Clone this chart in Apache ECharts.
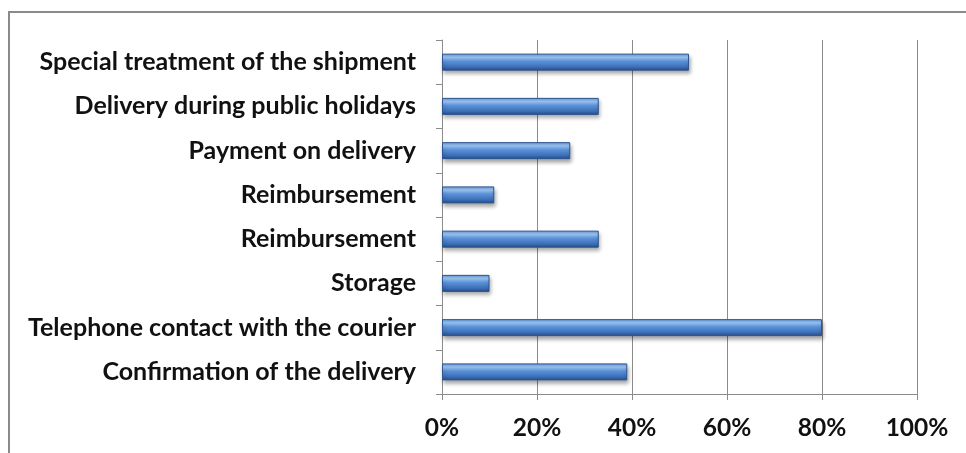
<!DOCTYPE html>
<html>
<head>
<meta charset="utf-8">
<script src="https://cdn.jsdelivr.net/npm/echarts@6/dist/echarts.min.js"></script>
<style>
html, body { margin: 0; padding: 0; background: #fff; }
#chart { width: 966px; height: 453px; }
</style>
</head>
<body>
<div id="chart"></div>
<script>
// Services, listed top to bottom
const categories = [
  'Special treatment of the shipment',
  'Delivery during public holidays',
  'Payment on delivery',
  'Reimbursement',
  'Reimbursement',
  'Storage',
  'Telephone contact with the courier',
  'Confirmation of the delivery'
];
const shares = [52, 33, 27, 11, 33, 10, 80, 39];
const tickValues = [0, 20, 40, 60, 80, 100];

const chart = echarts.init(document.getElementById('chart'));
const font = 'Lato, "Open Sans", sans-serif';

chart.setOption({
  animation: false,
  graphic: [{
    type: 'rect',
    shape: { x: 9, y: 12, width: 1000, height: 500 },
    style: { fill: 'none', stroke: '#8a8a8a', lineWidth: 2 },
    silent: true
  }],
  grid: { left: 442, right: 49, top: 40, bottom: 59 },
  xAxis: {
    type: 'value',
    min: 0, max: 100, interval: 20,
    axisLine: { show: true, lineStyle: { color: '#8c8c8c', width: 1 } },
    axisTick: { show: true, length: 6, lineStyle: { color: '#8c8c8c' } },
    splitLine: { show: true, lineStyle: { color: '#8c8c8c', width: 1 } },
    axisLabel: {
      formatter: v => tickValues.includes(v) ? v + '%' : '',
      color: '#111', fontSize: 24.5, fontWeight: 'bold', fontFamily: font, margin: 22
    }
  },
  yAxis: {
    type: 'category',
    inverse: true,
    data: categories,
    axisLine: { show: true, lineStyle: { color: '#8c8c8c', width: 1 } },
    axisTick: { show: true, length: 6, lineStyle: { color: '#8c8c8c' } },
    axisLabel: {
      color: '#111', fontSize: 25, fontWeight: 'bold', fontFamily: font, margin: 26
    }
  },
  series: [{
    type: 'bar',
    data: shares,
    barWidth: 17,
    itemStyle: {
      // glossy cylinder look: light band near the top, darker lower edge
      color: new echarts.graphic.LinearGradient(0, 0, 0, 1, [
        { offset: 0, color: '#5f97e0' },
        { offset: 0.22, color: '#a2cbf8' },
        { offset: 0.45, color: '#5b93dc' },
        { offset: 0.8, color: '#3a6db4' },
        { offset: 1, color: '#254b82' }
      ]),
      borderColor: '#2d558f',
      borderWidth: 1,
      shadowColor: 'rgba(0,0,0,0.35)',
      shadowBlur: 4,
      shadowOffsetY: 3,
      shadowOffsetX: 1
    }
  }]
});
</script>
</body>
</html>
